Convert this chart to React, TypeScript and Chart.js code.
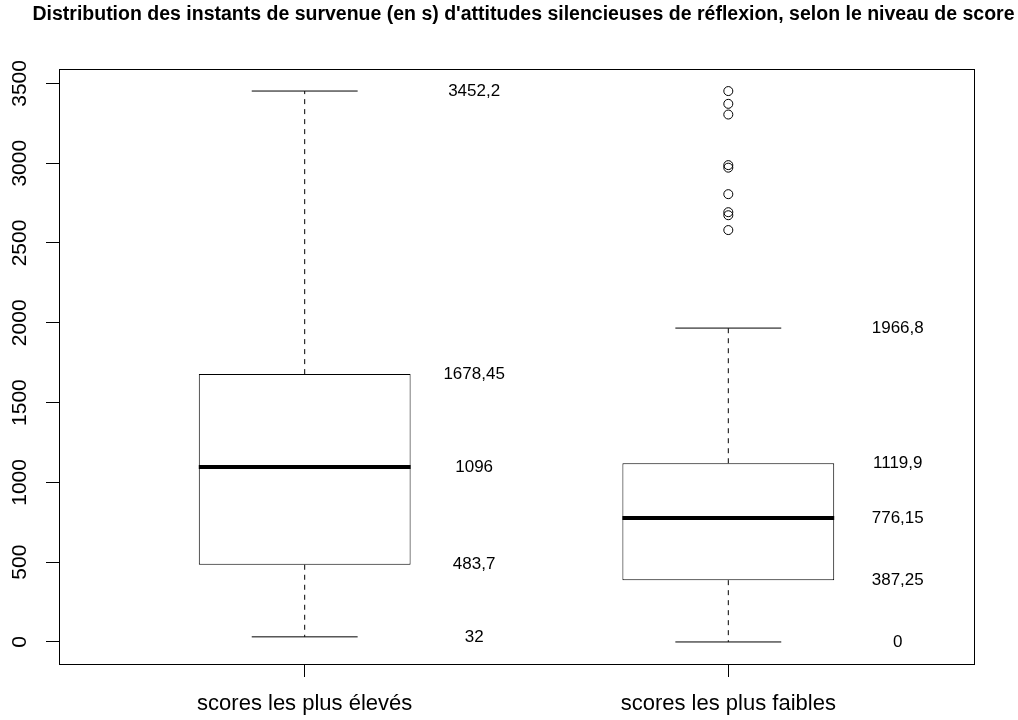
import React, { useEffect, useRef } from 'react';
import { Chart, registerables } from 'chart.js';

Chart.register(...registerables);

// ---- Data ----
const title =
  "Distribution des instants de survenue (en s) d'attitudes silencieuses de réflexion, selon le niveau de score";
const categories = ['scores les plus élevés', 'scores les plus faibles'];
const whiskerLow = [32, 0];
const q1 = [483.7, 387.25];
const median = [1096, 776.15];
const q3 = [1678.45, 1119.9];
const whiskerHigh = [3452.2, 1966.8];
const outliersHigh = [3452, 3372, 3305, 2988, 2972, 2806, 2693, 2674, 2581];
const outliersLow: number[] = [];
const outliers = [outliersLow, outliersHigh];
const yTicks = [0, 500, 1000, 1500, 2000, 2500, 3000, 3500];

// ---- Style constants ----
const FONT = '"Liberation Sans", Arial, Helvetica, sans-serif';
const BOX_HALF = 0.25;
const CAP_HALF = 0.125;
const LABEL_OFFSET = 0.4;

const fmt = (v: number) => String(v).replace('.', ',');

export default function App() {
  const canvasRef = useRef<HTMLCanvasElement | null>(null);

  useEffect(() => {
    const canvas = canvasRef.current;
    if (!canvas) return;

    const boxData = categories.map((_, i) => ({ x: i + 1, y: [q1[i], q3[i]] }));

    const medianData: any[] = [];
    const whiskerData: any[] = [];
    const capData: any[] = [];
    categories.forEach((_, i) => {
      const c = i + 1;
      medianData.push({ x: c - BOX_HALF, y: median[i] }, { x: c + BOX_HALF, y: median[i] }, { x: c, y: null });
      whiskerData.push({ x: c, y: q3[i] }, { x: c, y: whiskerHigh[i] }, { x: c, y: null });
      whiskerData.push({ x: c, y: q1[i] }, { x: c, y: whiskerLow[i] }, { x: c, y: null });
      capData.push({ x: c - CAP_HALF, y: whiskerHigh[i] }, { x: c + CAP_HALF, y: whiskerHigh[i] }, { x: c, y: null });
      capData.push({ x: c - CAP_HALF, y: whiskerLow[i] }, { x: c + CAP_HALF, y: whiskerLow[i] }, { x: c, y: null });
    });
    const outlierData: any[] = [];
    outliers.forEach((arr, i) => arr.forEach((v) => outlierData.push({ x: i + 1, y: v })));

    const overlay = {
      id: 'overlay',
      afterDraw(chart: any) {
        const { ctx, chartArea } = chart;
        const xs = chart.scales.x;
        const ys = chart.scales.y;
        ctx.save();
        // frame
        ctx.strokeStyle = '#000';
        ctx.lineWidth = 1;
        ctx.strokeRect(
          Math.round(chartArea.left) + 0.5,
          Math.round(chartArea.top) + 0.5,
          Math.round(chartArea.right - chartArea.left),
          Math.round(chartArea.bottom - chartArea.top)
        );
        // title
        ctx.fillStyle = '#000';
        ctx.font = `bold 19.5px ${FONT}`;
        ctx.textAlign = 'center';
        ctx.textBaseline = 'middle';
        ctx.fillText(title, (chartArea.left + chartArea.right) / 2 + 7, 15);
        // value labels
        ctx.font = `17px ${FONT}`;
        categories.forEach((_, i) => {
          const x = xs.getPixelForValue(i + 1 + LABEL_OFFSET);
          [whiskerLow[i], q1[i], median[i], q3[i], whiskerHigh[i]].forEach((v) => {
            ctx.fillText(fmt(v), x, ys.getPixelForValue(v));
          });
        });
        ctx.restore();
      },
    };

    const chart = new Chart(canvas, {
      type: 'bar',
      data: {
        datasets: [
          {
            type: 'bar',
            data: boxData as any,
            backgroundColor: '#ffffff',
            borderColor: '#000000',
            borderWidth: 1,
            borderSkipped: false,
            barPercentage: 0.5,
            categoryPercentage: 1,
            order: 5,
          } as any,
          {
            type: 'line',
            data: whiskerData,
            borderColor: '#000000',
            borderWidth: 1,
            borderDash: [5, 5],
            pointRadius: 0,
            spanGaps: false,
            order: 4,
          },
          {
            type: 'line',
            data: capData,
            borderColor: '#000000',
            borderWidth: 1,
            pointRadius: 0,
            spanGaps: false,
            order: 3,
          },
          {
            type: 'line',
            data: medianData,
            borderColor: '#000000',
            borderWidth: 4,
            pointRadius: 0,
            spanGaps: false,
            order: 2,
          },
          {
            type: 'scatter',
            data: outlierData,
            pointStyle: 'circle',
            pointRadius: 4.5,
            borderWidth: 1,
            borderColor: '#000000',
            backgroundColor: 'rgba(0,0,0,0)',
            order: 1,
          } as any,
        ],
      },
      options: {
        animation: false,
        responsive: true,
        maintainAspectRatio: false,
        events: [],
        layout: { padding: { left: 0, right: 44, top: 69, bottom: 0 } },
        plugins: {
          legend: { display: false },
          tooltip: { enabled: false },
          title: { display: false },
        },
        scales: {
          x: {
            type: 'linear',
            min: 0.42,
            max: 2.58,
            offset: false,
            afterBuildTicks: (scale: any) => {
              scale.ticks = categories.map((_, i) => ({ value: i + 1 }));
            },
            afterFit: (scale: any) => {
              scale.height = 56;
            },
            ticks: {
              autoSkip: false,
              maxRotation: 0,
              minRotation: 0,
              padding: 14,
              color: '#000',
              font: { family: FONT, size: 22 },
              callback: (_v: any, index: number) => categories[index],
            },
            grid: {
              display: true,
              drawOnChartArea: false,
              drawTicks: true,
              tickLength: 13,
              color: '#000',
              tickColor: '#000',
              offset: false,
            },
            border: { display: true, color: '#000', width: 1 },
          },
          y: {
            type: 'linear',
            min: -138.1,
            max: 3590.3,
            afterBuildTicks: (scale: any) => {
              scale.ticks = yTicks.map((v) => ({ value: v }));
            },
            afterFit: (scale: any) => {
              scale.width = 59;
            },
            ticks: {
              autoSkip: false,
              minRotation: 90,
              maxRotation: 90,
              crossAlign: 'center',
              padding: 2,
              color: '#000',
              font: { family: FONT, size: 21 },
              callback: (v: any) => String(v),
            },
            grid: {
              display: true,
              drawOnChartArea: false,
              drawTicks: true,
              tickLength: 13,
              color: '#000',
              tickColor: '#000',
            },
            border: { display: true, color: '#000', width: 1 },
          },
        },
      },
      plugins: [overlay],
    });

    return () => chart.destroy();
  }, []);

  return (
    <div style={{ position: 'absolute', left: 0, top: 0, width: 1018, height: 720, background: '#fff' }}>
      <canvas ref={canvasRef} />
    </div>
  );
}
